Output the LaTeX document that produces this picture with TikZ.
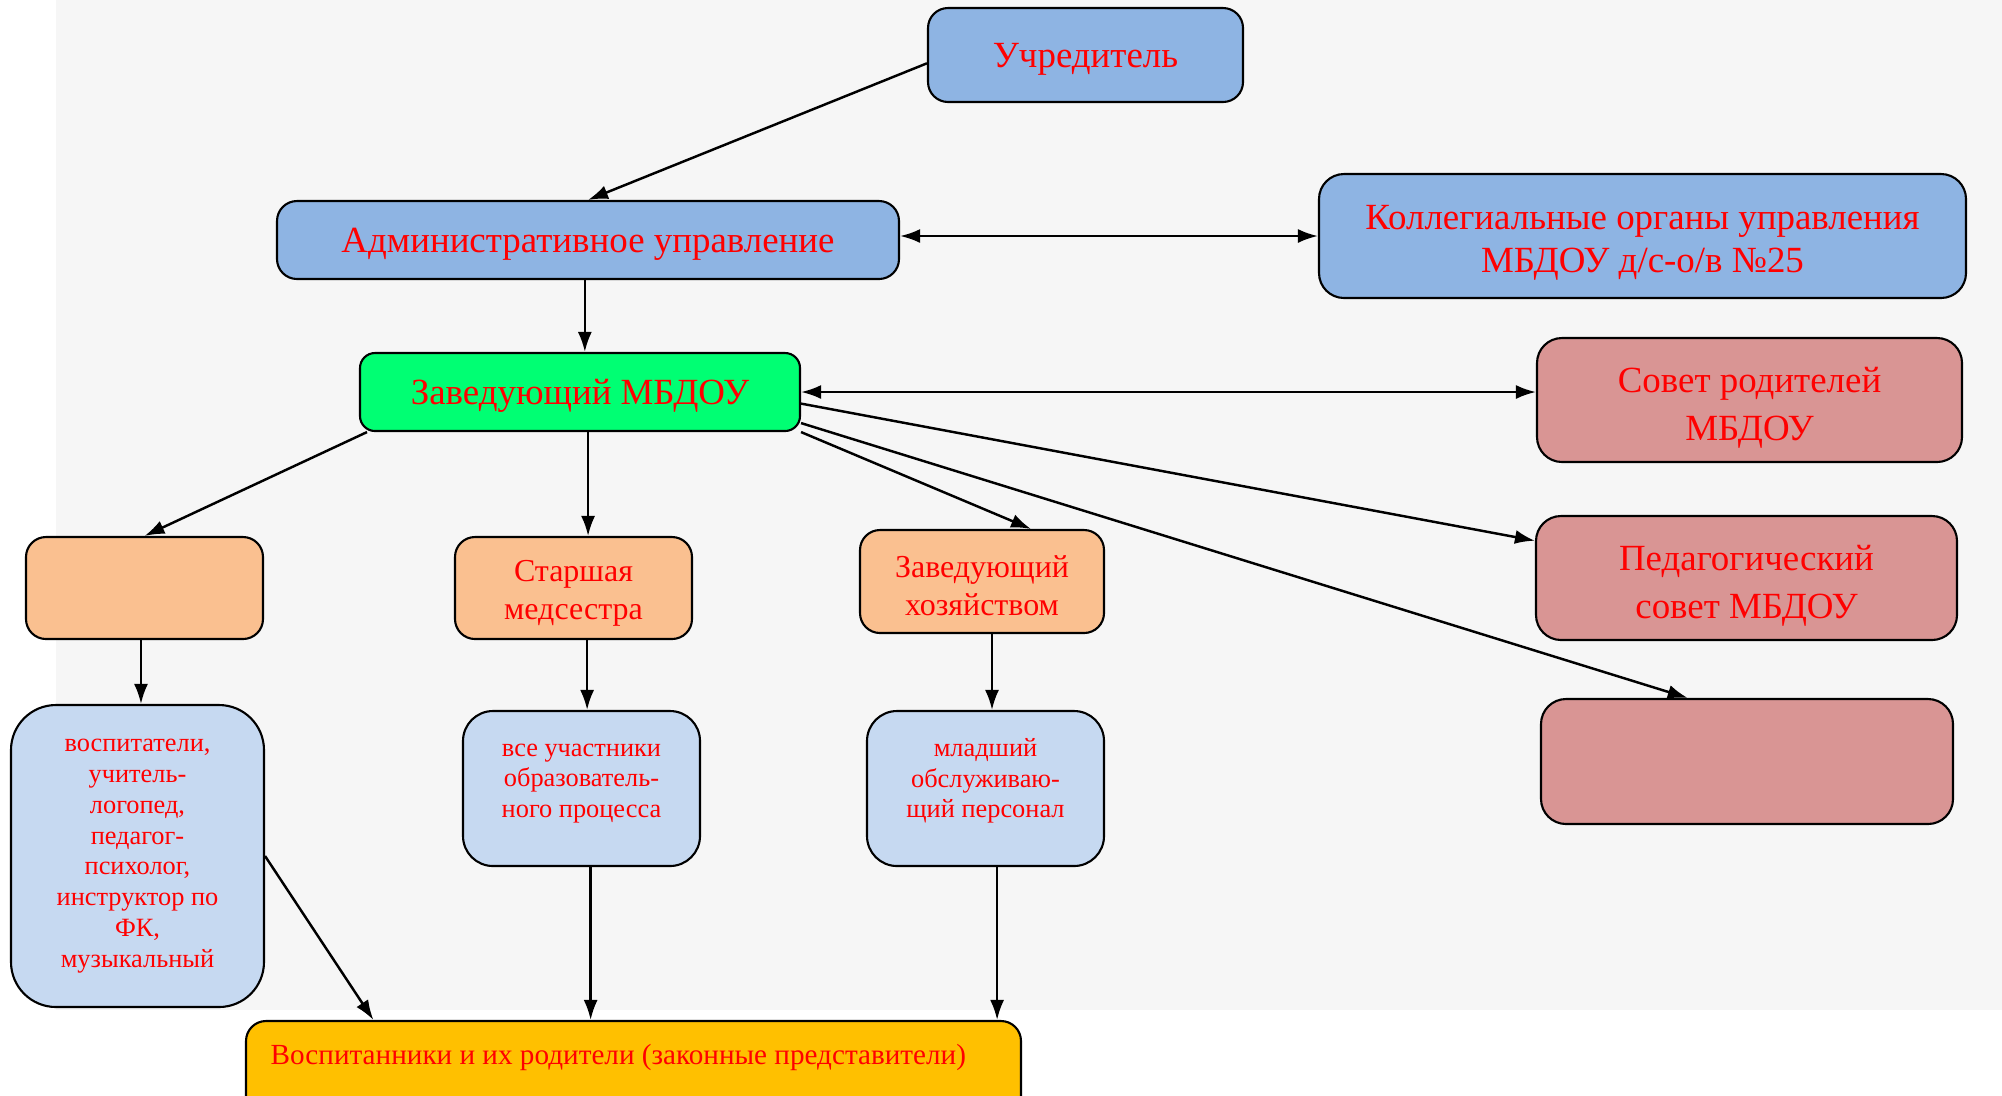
\documentclass[tikz,border=0pt]{standalone}
\usepackage{fontspec}
\setmainfont{Liberation Serif}
\usetikzlibrary{arrows.meta}
\definecolor{bggray}{RGB}{246,246,246}
\definecolor{topblue}{RGB}{142,180,227}
\definecolor{lightblue}{RGB}{198,217,241}
\definecolor{headgreen}{RGB}{0,255,115}
\definecolor{councilpink}{RGB}{217,149,148}
\definecolor{staffpeach}{RGB}{250,192,144}
\definecolor{pupilgold}{RGB}{255,192,0}
\begin{document}
\begin{tikzpicture}[x=0.1mm, y=-0.1mm,
        orgbox/.style={draw=black, line width=0.6pt, rounded corners=2mm, text=red, align=center, inner sep=0pt},
        orgtxt/.style={text=red, align=center, inner sep=0pt},
        bigtxt/.style={font=\fontsize{10.5}{12.2}\selectfont},
        council/.style={font=\fontsize{10.5}{13.7}\selectfont},
        midtxt/.style={font=\fontsize{9.1}{10.8}\selectfont},
        smalltxt/.style={font=\fontsize{7.5}{8.75}\selectfont},
        arr/.style={-{Latex[length=2mm,width=1.4mm]}, line width=0.7pt},
        darr/.style={{Latex[length=2mm,width=1.4mm]}-{Latex[length=2mm,width=1.4mm]}, line width=0.7pt}]
            \useasboundingbox (0,0) rectangle (2002,1095);
            \fill[bggray] (56,0) rectangle (2002,1010);

            \node[orgbox, bigtxt, text depth=0pt, fill=topblue, minimum width=31.5mm, minimum height=9.4mm] (uchr) at (1085.5,55) {Учредитель};
            \node[orgbox, bigtxt, text depth=0pt, fill=topblue, minimum width=62.2mm, minimum height=7.8mm] (adm) at (588,240) {Административное управление};
            \node[orgbox, fill=topblue, minimum width=64.7mm, minimum height=12.4mm, rounded corners=2.5mm] (koll) at (1642.5,236) {};
            \node[orgtxt, bigtxt] (kolltxt) at (1642.5,243) {Коллегиальные органы управления\\МБДОУ д/с-о/в №25};
            \node[orgbox, bigtxt, text depth=0pt, fill=headgreen, minimum width=44mm, minimum height=7.8mm, rounded corners=1.5mm] (zav) at (580,392) {Заведующий МБДОУ};

            \node[orgbox, fill=councilpink, minimum width=42.5mm, minimum height=12.4mm, rounded corners=2.5mm] (sovet) at (1749.5,400) {};
            \node[orgtxt, council] (sovettxt) at (1749.5,407.5) {Совет родителей\\МБДОУ};
            \node[orgbox, fill=councilpink, minimum width=42.1mm, minimum height=12.4mm, rounded corners=2.5mm] (ped) at (1746.5,578) {};
            \node[orgtxt, council] (pedtxt) at (1746.5,585.5) {Педагогический\\совет МБДОУ};
            \node[orgbox, fill=councilpink, minimum width=41.2mm, minimum height=12.5mm, rounded corners=2.5mm] (pblank) at (1747,761.5) {};

            \node[orgbox, fill=staffpeach, minimum width=23.7mm, minimum height=10.2mm] (oblank) at (144.5,588) {};
            \node[orgbox, fill=staffpeach, minimum width=23.7mm, minimum height=10.2mm] (starsh) at (573.5,588) {};
            \node[orgtxt, midtxt] (starshtxt) at (573.5,593) {Старшая\\медсестра};
            \node[orgbox, fill=staffpeach, minimum width=24.4mm, minimum height=10.3mm] (hoz) at (982,581.5) {};
            \node[orgtxt, midtxt] (hoztxt) at (982,585.5) {Заведующий\\хозяйством};

            \node[orgbox, smalltxt, fill=lightblue, minimum width=25.3mm, minimum height=30.2mm, rounded corners=4.5mm] (vosp) at (137.5,856) {воспитатели,\\учитель-\\логопед,\\педагог-\\психолог,\\инструктор по\\ФК,\\музыкальный};
            \node[orgbox, fill=lightblue, minimum width=23.7mm, minimum height=15.5mm, rounded corners=3mm] (uch) at (581.5,788.5) {};
            \node[orgtxt, smalltxt] (uchtxt) at (581.5,783.5) {все участники\\образователь-\\ного процесса};
            \node[orgbox, fill=lightblue, minimum width=23.7mm, minimum height=15.5mm, rounded corners=3mm] (mlad) at (985.5,788.5) {};
            \node[orgtxt, smalltxt] (mladtxt) at (985.5,781) {младший\\обслуживаю-\\щий персонал};

            \node[orgbox, fill=pupilgold, minimum width=77.5mm, minimum height=9.9mm] (pupils) at (633.5,1070.5) {};
            \node[orgtxt, font=\fontsize{8.3}{9.6}\selectfont, anchor=west] (pupilstxt) at (270,1057.5) {Воспитанники и их родители (законные представители)};

            \draw[arr] (uchr.183) -- (adm.north);
            \draw[arr] ([xshift=-0.9pt]adm.south) -- ([xshift=-0.9pt]adm.south |- zav.north);
            \draw[darr] (koll.west -| adm.east) -- (koll.west);
            \draw[darr] (zav.east) -- (zav.east -| sovet.west);
            \draw[arr] (zav.357) -- (ped.170.6);
            \draw[arr] (zav.352) -- (pblank.133.8);
            \draw[arr] (zav.south east) -- (hoz.47);
            \draw[arr] ([xshift=2.3pt]zav.south) -- ([xshift=2.3pt]zav.south |- starsh.north);
            \draw[arr] ([xshift=2.3pt]zav.south west) -- (oblank.north);

            \draw[arr] ([xshift=-1pt]oblank.south) -- ([xshift=-1pt]oblank.south |- vosp.north);
            \draw[arr] ([xshift=1.6pt]uch.north |- starsh.south) -- ([xshift=1.6pt]uch.north);
            \draw[arr] ([xshift=1.85pt]mlad.north |- hoz.south) -- ([xshift=1.85pt]mlad.north);

            \draw[arr] (vosp.east) -- (pupils.169);
            \draw[arr] ([xshift=2.6pt]uch.south) -- ([xshift=2.6pt]uch.south |- pupils.north);
            \draw[arr] ([xshift=3.3pt]mlad.south) -- ([xshift=3.3pt]mlad.south |- pupils.north);
        \end{tikzpicture}
\end{document}
